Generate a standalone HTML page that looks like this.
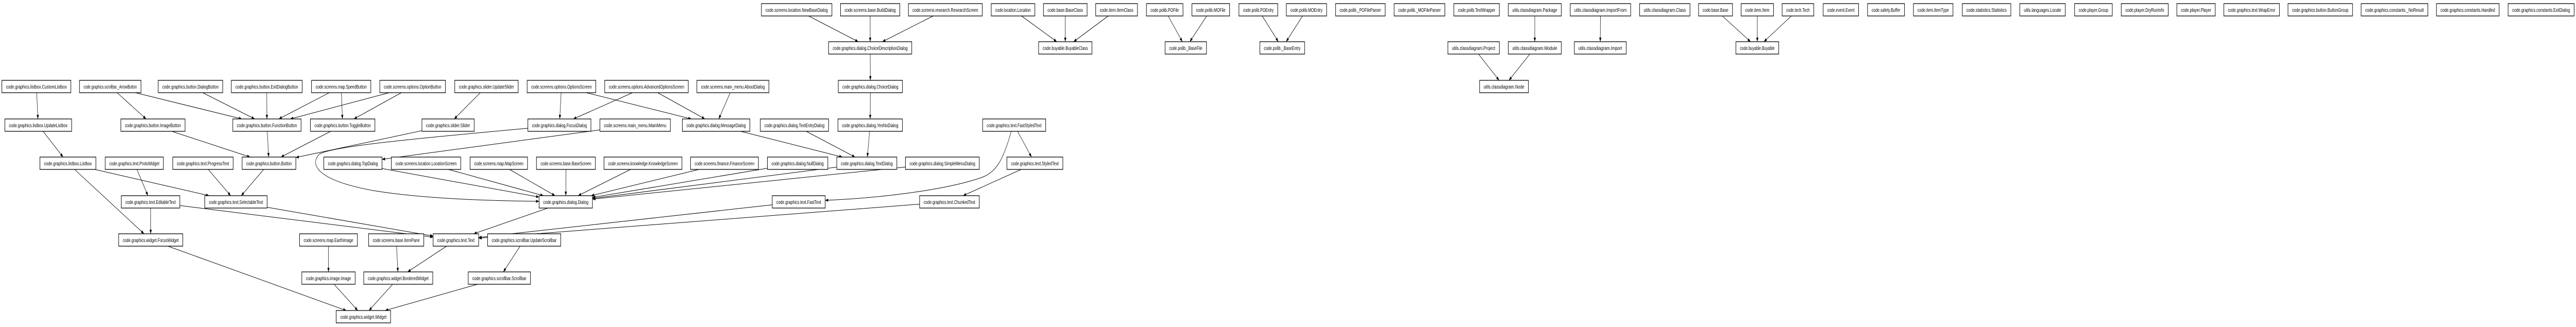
<!DOCTYPE html>
<html><head><meta charset="utf-8">
<meta name="viewport" content="width=6905">
<style>
html,body{margin:0;padding:0;background:#fff;width:100%;height:100%;overflow:hidden;}
svg{display:block;position:fixed;left:0;top:0;width:100vw;height:100vh;}
text{font-family:"Liberation Sans",sans-serif;font-size:10.5px;fill:#000;text-anchor:middle;}
rect{fill:#fff;stroke:#000;stroke-width:1.3;}
.e{stroke:#000;stroke-width:1;fill:none;}
</style></head>
<body>
<svg id="g" viewBox="0 0 6905 635" preserveAspectRatio="none" xmlns="http://www.w3.org/2000/svg">
<defs><marker id="a" markerWidth="8" markerHeight="6" refX="8" refY="3" orient="auto" markerUnits="userSpaceOnUse"><path d="M0,0 L8,3 L0,6 z" fill="#000"/></marker></defs>
<g id="edges"></g>
<path class="e" marker-end="url(#a)" d="M1415,249 C1100,270 880,285 855,300 C830,320 850,350 1000,370 C1150,388 1350,390 1445,391"/>
<path class="e" marker-end="url(#a)" d="M2711,254 C2690,310 2670,335 2630,345 C2530,370 2350,385 2212,389"/>
<g>
<rect x="2041" y="7" width="189" height="24"/><text x="2135.5" y="23" textLength="167" lengthAdjust="spacingAndGlyphs">code.screens.location.NewBaseDialog</text>
<rect x="2253" y="7" width="159" height="24"/><text x="2332.5" y="23" textLength="137" lengthAdjust="spacingAndGlyphs">code.screens.base.BuildDialog</text>
<rect x="2435" y="7" width="198" height="24"/><text x="2534" y="23" textLength="176" lengthAdjust="spacingAndGlyphs">code.screens.research.ResearchScreen</text>
<rect x="2657" y="7" width="117" height="24"/><text x="2715.5" y="23" textLength="95" lengthAdjust="spacingAndGlyphs">code.location.Location</text>
<rect x="2797" y="7" width="117" height="24"/><text x="2855.5" y="23" textLength="95" lengthAdjust="spacingAndGlyphs">code.base.BaseClass</text>
<rect x="2937" y="7" width="112" height="24"/><text x="2993" y="23" textLength="90" lengthAdjust="spacingAndGlyphs">code.item.ItemClass</text>
<rect x="3073" y="7" width="98" height="24"/><text x="3122" y="23" textLength="76" lengthAdjust="spacingAndGlyphs">code.polib.POFile</text>
<rect x="3195" y="7" width="101" height="24"/><text x="3245.5" y="23" textLength="79" lengthAdjust="spacingAndGlyphs">code.polib.MOFile</text>
<rect x="3321" y="7" width="104" height="24"/><text x="3373" y="23" textLength="82" lengthAdjust="spacingAndGlyphs">code.polib.POEntry</text>
<rect x="3448" y="7" width="108" height="24"/><text x="3502" y="23" textLength="86" lengthAdjust="spacingAndGlyphs">code.polib.MOEntry</text>
<rect x="3580" y="7" width="133" height="24"/><text x="3646.5" y="23" textLength="111" lengthAdjust="spacingAndGlyphs">code.polib._POFileParser</text>
<rect x="3737" y="7" width="136" height="24"/><text x="3805" y="23" textLength="114" lengthAdjust="spacingAndGlyphs">code.polib._MOFileParser</text>
<rect x="3897" y="7" width="122" height="24"/><text x="3958" y="23" textLength="100" lengthAdjust="spacingAndGlyphs">code.polib.TextWrapper</text>
<rect x="4043" y="7" width="142" height="24"/><text x="4114" y="23" textLength="120" lengthAdjust="spacingAndGlyphs">utils.classdiagram.Package</text>
<rect x="4209" y="7" width="162" height="24"/><text x="4290" y="23" textLength="140" lengthAdjust="spacingAndGlyphs">utils.classdiagram.ImportFrom</text>
<rect x="4395" y="7" width="135" height="24"/><text x="4462.5" y="23" textLength="113" lengthAdjust="spacingAndGlyphs">utils.classdiagram.Class</text>
<rect x="4553" y="7" width="91" height="24"/><text x="4598.5" y="23" textLength="69" lengthAdjust="spacingAndGlyphs">code.base.Base</text>
<rect x="4667" y="7" width="87" height="24"/><text x="4710.5" y="23" textLength="65" lengthAdjust="spacingAndGlyphs">code.item.Item</text>
<rect x="4777" y="7" width="85" height="24"/><text x="4819.5" y="23" textLength="63" lengthAdjust="spacingAndGlyphs">code.tech.Tech</text>
<rect x="4887" y="7" width="95" height="24"/><text x="4934.5" y="23" textLength="73" lengthAdjust="spacingAndGlyphs">code.event.Event</text>
<rect x="5006" y="7" width="99" height="24"/><text x="5055.5" y="23" textLength="77" lengthAdjust="spacingAndGlyphs">code.safety.Buffer</text>
<rect x="5129" y="7" width="106" height="24"/><text x="5182" y="23" textLength="84" lengthAdjust="spacingAndGlyphs">code.item.ItemType</text>
<rect x="5260" y="7" width="130" height="24"/><text x="5325" y="23" textLength="108" lengthAdjust="spacingAndGlyphs">code.statistics.Statistics</text>
<rect x="5414" y="7" width="122" height="24"/><text x="5475" y="23" textLength="100" lengthAdjust="spacingAndGlyphs">utils.languages.Locale</text>
<rect x="5561" y="7" width="101" height="24"/><text x="5611.5" y="23" textLength="79" lengthAdjust="spacingAndGlyphs">code.player.Group</text>
<rect x="5686" y="7" width="126" height="24"/><text x="5749" y="23" textLength="104" lengthAdjust="spacingAndGlyphs">code.player.DryRunInfo</text>
<rect x="5835" y="7" width="103" height="24"/><text x="5886.5" y="23" textLength="81" lengthAdjust="spacingAndGlyphs">code.player.Player</text>
<rect x="5961" y="7" width="149" height="24"/><text x="6035.5" y="23" textLength="127" lengthAdjust="spacingAndGlyphs">code.graphics.text.WrapError</text>
<rect x="6133" y="7" width="173" height="24"/><text x="6219.5" y="23" textLength="151" lengthAdjust="spacingAndGlyphs">code.graphics.button.ButtonGroup</text>
<rect x="6329" y="7" width="179" height="24"/><text x="6418.5" y="23" textLength="157" lengthAdjust="spacingAndGlyphs">code.graphics.constants._NoResult</text>
<rect x="6531" y="7" width="168" height="24"/><text x="6615" y="23" textLength="146" lengthAdjust="spacingAndGlyphs">code.graphics.constants.Handled</text>
<rect x="6723" y="7" width="177" height="24"/><text x="6811.5" y="23" textLength="155" lengthAdjust="spacingAndGlyphs">code.graphics.constants.ExitDialog</text>

<rect x="2221" y="81" width="223" height="24"/><text x="2332.5" y="97" textLength="201" lengthAdjust="spacingAndGlyphs">code.graphics.dialog.ChoiceDescriptionDialog</text>
<rect x="2784" y="81" width="143" height="24"/><text x="2855.5" y="97" textLength="121" lengthAdjust="spacingAndGlyphs">code.buyable.BuyableClass</text>
<rect x="3123" y="81" width="111" height="24"/><text x="3178.5" y="97" textLength="89" lengthAdjust="spacingAndGlyphs">code.polib._BaseFile</text>
<rect x="3377" y="81" width="120" height="24"/><text x="3437" y="97" textLength="98" lengthAdjust="spacingAndGlyphs">code.polib._BaseEntry</text>
<rect x="3881" y="81" width="138" height="24"/><text x="3950" y="97" textLength="116" lengthAdjust="spacingAndGlyphs">utils.classdiagram.Project</text>
<rect x="4043" y="81" width="142" height="24"/><text x="4114" y="97" textLength="120" lengthAdjust="spacingAndGlyphs">utils.classdiagram.Module</text>
<rect x="4220" y="81" width="139" height="24"/><text x="4289.5" y="97" textLength="117" lengthAdjust="spacingAndGlyphs">utils.classdiagram.Import</text>
<rect x="4653" y="81" width="115" height="24"/><text x="4710.5" y="97" textLength="93" lengthAdjust="spacingAndGlyphs">code.buyable.Buyable</text>

<rect x="5" y="156" width="185" height="24"/><text x="97.5" y="172" textLength="163" lengthAdjust="spacingAndGlyphs">code.graphics.listbox.CustomListbox</text>
<rect x="213" y="156" width="165" height="24"/><text x="295.5" y="172" textLength="143" lengthAdjust="spacingAndGlyphs">code.graphics.scrollbar._ArrowButton</text>
<rect x="424" y="156" width="173" height="24"/><text x="510.5" y="172" textLength="151" lengthAdjust="spacingAndGlyphs">code.graphics.button.DialogButton</text>
<rect x="620" y="156" width="190" height="24"/><text x="715" y="172" textLength="168" lengthAdjust="spacingAndGlyphs">code.graphics.button.ExitDialogButton</text>
<rect x="835" y="156" width="159" height="24"/><text x="914.5" y="172" textLength="137" lengthAdjust="spacingAndGlyphs">code.screens.map.SpeedButton</text>
<rect x="1018" y="156" width="176" height="24"/><text x="1106" y="172" textLength="154" lengthAdjust="spacingAndGlyphs">code.screens.options.OptionButton</text>
<rect x="1219" y="156" width="170" height="24"/><text x="1304" y="172" textLength="148" lengthAdjust="spacingAndGlyphs">code.graphics.slider.UpdateSlider</text>
<rect x="1413" y="156" width="184" height="24"/><text x="1505" y="172" textLength="162" lengthAdjust="spacingAndGlyphs">code.screens.options.OptionsScreen</text>
<rect x="1621" y="156" width="224" height="24"/><text x="1733" y="172" textLength="202" lengthAdjust="spacingAndGlyphs">code.screens.options.AdvancedOptionsScreen</text>
<rect x="1868" y="156" width="193" height="24"/><text x="1964.5" y="172" textLength="171" lengthAdjust="spacingAndGlyphs">code.screens.main_menu.AboutDialog</text>
<rect x="2247" y="156" width="172" height="24"/><text x="2333" y="172" textLength="150" lengthAdjust="spacingAndGlyphs">code.graphics.dialog.ChoiceDialog</text>
<rect x="3966" y="156" width="131" height="24"/><text x="4031.5" y="172" textLength="109" lengthAdjust="spacingAndGlyphs">utils.classdiagram.Node</text>

<rect x="13" y="231" width="179" height="24"/><text x="102.5" y="247" textLength="157" lengthAdjust="spacingAndGlyphs">code.graphics.listbox.UpdateListbox</text>
<rect x="324" y="231" width="172" height="24"/><text x="410" y="247" textLength="150" lengthAdjust="spacingAndGlyphs">code.graphics.button.ImageButton</text>
<rect x="624" y="231" width="183" height="24"/><text x="715.5" y="247" textLength="161" lengthAdjust="spacingAndGlyphs">code.graphics.button.FunctionButton</text>
<rect x="832" y="231" width="173" height="24"/><text x="918.5" y="247" textLength="151" lengthAdjust="spacingAndGlyphs">code.graphics.button.ToggleButton</text>
<rect x="1131" y="231" width="140" height="24"/><text x="1201" y="247" textLength="118" lengthAdjust="spacingAndGlyphs">code.graphics.slider.Slider</text>
<rect x="1415" y="231" width="169" height="24"/><text x="1499.5" y="247" textLength="147" lengthAdjust="spacingAndGlyphs">code.graphics.dialog.FocusDialog</text>
<rect x="1608" y="231" width="189" height="24"/><text x="1702.5" y="247" textLength="167" lengthAdjust="spacingAndGlyphs">code.screens.main_menu.MainMenu</text>
<rect x="1829" y="231" width="181" height="24"/><text x="1919.5" y="247" textLength="159" lengthAdjust="spacingAndGlyphs">code.graphics.dialog.MessageDialog</text>
<rect x="2038" y="231" width="183" height="24"/><text x="2129.5" y="247" textLength="161" lengthAdjust="spacingAndGlyphs">code.graphics.dialog.TextEntryDialog</text>
<rect x="2246" y="231" width="173" height="24"/><text x="2332.5" y="247" textLength="151" lengthAdjust="spacingAndGlyphs">code.graphics.dialog.YesNoDialog</text>
<rect x="2634" y="231" width="169" height="24"/><text x="2718.5" y="247" textLength="147" lengthAdjust="spacingAndGlyphs">code.graphics.text.FastStyledText</text>

<rect x="107" y="305" width="150" height="24"/><text x="182" y="321" textLength="128" lengthAdjust="spacingAndGlyphs">code.graphics.listbox.Listbox</text>
<rect x="282" y="305" width="156" height="24"/><text x="360" y="321" textLength="134" lengthAdjust="spacingAndGlyphs">code.graphics.text.ProtoWidget</text>
<rect x="463" y="305" width="162" height="24"/><text x="544" y="321" textLength="140" lengthAdjust="spacingAndGlyphs">code.graphics.text.ProgressText</text>
<rect x="649" y="305" width="144" height="24"/><text x="721" y="321" textLength="122" lengthAdjust="spacingAndGlyphs">code.graphics.button.Button</text>
<rect x="868" y="305" width="156" height="24"/><text x="946" y="321" textLength="134" lengthAdjust="spacingAndGlyphs">code.graphics.dialog.TopDialog</text>
<rect x="1049" y="305" width="186" height="24"/><text x="1142" y="321" textLength="164" lengthAdjust="spacingAndGlyphs">code.screens.location.LocationScreen</text>
<rect x="1260" y="305" width="154" height="24"/><text x="1337" y="321" textLength="132" lengthAdjust="spacingAndGlyphs">code.screens.map.MapScreen</text>
<rect x="1438" y="305" width="158" height="24"/><text x="1517" y="321" textLength="136" lengthAdjust="spacingAndGlyphs">code.screens.base.BaseScreen</text>
<rect x="1619" y="305" width="209" height="24"/><text x="1723.5" y="321" textLength="187" lengthAdjust="spacingAndGlyphs">code.screens.knowledge.KnowledgeScreen</text>
<rect x="1851" y="305" width="182" height="24"/><text x="1942" y="321" textLength="160" lengthAdjust="spacingAndGlyphs">code.screens.finance.FinanceScreen</text>
<rect x="2057" y="305" width="162" height="24"/><text x="2138" y="321" textLength="140" lengthAdjust="spacingAndGlyphs">code.graphics.dialog.NullDialog</text>
<rect x="2243" y="305" width="161" height="24"/><text x="2323.5" y="321" textLength="139" lengthAdjust="spacingAndGlyphs">code.graphics.dialog.TextDialog</text>
<rect x="2427" y="305" width="198" height="24"/><text x="2526" y="321" textLength="176" lengthAdjust="spacingAndGlyphs">code.graphics.dialog.SimpleMenuDialog</text>
<rect x="2699" y="305" width="150" height="24"/><text x="2774" y="321" textLength="128" lengthAdjust="spacingAndGlyphs">code.graphics.text.StyledText</text>

<rect x="325" y="380" width="157" height="24"/><text x="403.5" y="396" textLength="135" lengthAdjust="spacingAndGlyphs">code.graphics.text.EditableText</text>
<rect x="549" y="380" width="167" height="24"/><text x="632.5" y="396" textLength="145" lengthAdjust="spacingAndGlyphs">code.graphics.text.SelectableText</text>
<rect x="1445" y="380" width="143" height="24"/><text x="1516.5" y="396" textLength="121" lengthAdjust="spacingAndGlyphs">code.graphics.dialog.Dialog</text>
<rect x="2070" y="380" width="142" height="24"/><text x="2141" y="396" textLength="120" lengthAdjust="spacingAndGlyphs">code.graphics.text.FastText</text>
<rect x="2465" y="380" width="160" height="24"/><text x="2545" y="396" textLength="138" lengthAdjust="spacingAndGlyphs">code.graphics.text.ChunkedText</text>

<rect x="318" y="454" width="172" height="24"/><text x="404" y="470" textLength="150" lengthAdjust="spacingAndGlyphs">code.graphics.widget.FocusWidget</text>
<rect x="803" y="454" width="155" height="24"/><text x="880.5" y="470" textLength="133" lengthAdjust="spacingAndGlyphs">code.screens.map.EarthImage</text>
<rect x="988" y="454" width="148" height="24"/><text x="1062" y="470" textLength="126" lengthAdjust="spacingAndGlyphs">code.screens.base.ItemPane</text>
<rect x="1161" y="454" width="122" height="24"/><text x="1222" y="470" textLength="100" lengthAdjust="spacingAndGlyphs">code.graphics.text.Text</text>
<rect x="1307" y="454" width="196" height="24"/><text x="1405" y="470" textLength="174" lengthAdjust="spacingAndGlyphs">code.graphics.scrollbar.UpdateScrollbar</text>

<rect x="809" y="528" width="143" height="24"/><text x="880.5" y="544" textLength="121" lengthAdjust="spacingAndGlyphs">code.graphics.image.Image</text>
<rect x="975" y="528" width="185" height="24"/><text x="1067.5" y="544" textLength="163" lengthAdjust="spacingAndGlyphs">code.graphics.widget.BorderedWidget</text>
<rect x="1255" y="528" width="167" height="24"/><text x="1338.5" y="544" textLength="145" lengthAdjust="spacingAndGlyphs">code.graphics.scrollbar.Scrollbar</text>

<rect x="901" y="603" width="146" height="24"/><text x="974" y="619" textLength="124" lengthAdjust="spacingAndGlyphs">code.graphics.widget.Widget</text>
</g>
</svg>
<script>
var R=[7,81,156,231,305,380,454,528,603],H=24;
var N={};
var D=[
["NewBaseDialog",2041,2230,0],["BuildDialog",2253,2412,0],["ResearchScreen",2435,2633,0],["Location",2657,2774,0],
["BaseClass",2797,2914,0],["ItemClass",2937,3049,0],["POFile",3073,3171,0],["MOFile",3195,3296,0],["POEntry",3321,3425,0],
["MOEntry",3448,3556,0],["Package",4043,4185,0],["ImportFrom",4209,4371,0],["Base",4553,4644,0],["Item",4667,4754,0],["Tech",4777,4862,0],
["ChoiceDescriptionDialog",2221,2444,1],["BuyableClass",2784,2927,1],["_BaseFile",3123,3234,1],["_BaseEntry",3377,3497,1],
["Project",3881,4019,1],["Module",4043,4185,1],["Import",4220,4359,1],["Buyable",4653,4768,1],
["CustomListbox",5,190,2],["_ArrowButton",213,378,2],["DialogButton",424,597,2],["ExitDialogButton",620,810,2],["SpeedButton",835,994,2],
["OptionButton",1018,1194,2],["UpdateSlider",1219,1389,2],["OptionsScreen",1413,1597,2],["AdvancedOptionsScreen",1621,1845,2],
["AboutDialog",1868,2061,2],["ChoiceDialog",2247,2419,2],["Node",3966,4097,2],
["UpdateListbox",13,192,3],["ImageButton",324,496,3],["FunctionButton",624,807,3],["ToggleButton",832,1005,3],["Slider",1131,1271,3],
["FocusDialog",1415,1584,3],["MainMenu",1608,1797,3],["MessageDialog",1829,2010,3],["TextEntryDialog",2038,2221,3],["YesNoDialog",2246,2419,3],
["FastStyledText",2634,2803,3],
["Listbox",107,257,4],["ProtoWidget",282,438,4],["ProgressText",463,625,4],["Button",649,793,4],["TopDialog",868,1024,4],
["LocationScreen",1049,1235,4],["MapScreen",1260,1414,4],["BaseScreen",1438,1596,4],["KnowledgeScreen",1619,1828,4],
["FinanceScreen",1851,2033,4],["NullDialog",2057,2219,4],["TextDialog",2243,2404,4],["SimpleMenuDialog",2427,2625,4],["StyledText",2699,2849,4],
["EditableText",325,482,5],["SelectableText",549,716,5],["Dialog",1445,1588,5],["FastText",2070,2212,5],["ChunkedText",2465,2625,5],
["FocusWidget",318,490,6],["EarthImage",803,958,6],["ItemPane",988,1136,6],["Text",1161,1283,6],["UpdateScrollbar",1307,1503,6],
["Image",809,952,7],["BorderedWidget",975,1160,7],["Scrollbar",1255,1422,7],["Widget",901,1047,8]
];
D.forEach(function(d){N[d[0]]={x1:d[1],x2:d[2],y:R[d[3]]};});
var E=[
["NewBaseDialog","ChoiceDescriptionDialog"],["BuildDialog","ChoiceDescriptionDialog"],["ResearchScreen","ChoiceDescriptionDialog"],
["Location","BuyableClass"],["BaseClass","BuyableClass"],["ItemClass","BuyableClass"],
["POFile","_BaseFile"],["MOFile","_BaseFile"],["POEntry","_BaseEntry"],["MOEntry","_BaseEntry"],
["Package","Module"],["ImportFrom","Import"],["Project","Node"],["Module","Node"],
["Base","Buyable"],["Item","Buyable"],["Tech","Buyable"],
["ChoiceDescriptionDialog","ChoiceDialog"],["ChoiceDialog","YesNoDialog"],["YesNoDialog","TextDialog"],
["CustomListbox","UpdateListbox"],["_ArrowButton","ImageButton"],["_ArrowButton","FunctionButton"],
["DialogButton","FunctionButton"],["ExitDialogButton","FunctionButton"],["SpeedButton","FunctionButton"],["SpeedButton","ToggleButton"],
["OptionButton","FunctionButton"],["OptionButton","ToggleButton"],
["UpdateSlider","Slider"],["OptionsScreen","FocusDialog"],["OptionsScreen","MessageDialog"],
["AdvancedOptionsScreen","FocusDialog"],["AdvancedOptionsScreen","MessageDialog"],["AboutDialog","MessageDialog"],
["UpdateListbox","Listbox"],["ImageButton","Button"],["FunctionButton","Button"],["ToggleButton","Button"],["Slider","Button"],
["MainMenu","TopDialog"],["MessageDialog","TextDialog"],["TextEntryDialog","TextDialog"],["FastStyledText","StyledText"],
["Listbox","SelectableText"],["Listbox","FocusWidget"],["ProtoWidget","EditableText"],["ProgressText","SelectableText"],["Button","SelectableText"],
["TopDialog","Dialog"],["LocationScreen","Dialog"],["MapScreen","Dialog"],["BaseScreen","Dialog"],["KnowledgeScreen","Dialog"],
["FinanceScreen","Dialog"],["NullDialog","Dialog"],["TextDialog","Dialog"],["SimpleMenuDialog","Dialog"],["StyledText","ChunkedText"],
["EditableText","FocusWidget"],["EditableText","Text"],["SelectableText","Text"],["Dialog","Text"],["FastText","Text"],["ChunkedText","Text"],
["FocusWidget","Widget"],["EarthImage","Image"],["ItemPane","BorderedWidget"],["Text","BorderedWidget"],["UpdateScrollbar","Scrollbar"],
["Image","Widget"],["BorderedWidget","Widget"],["Scrollbar","Widget"]
];
var ns="http://www.w3.org/2000/svg";
function clip(n,cx,cy,dx,dy){
  var hw=(n.x2-n.x1)/2,hh=H/2,t=1e9;
  if(dx!==0)t=Math.min(t,hw/Math.abs(dx));
  if(dy!==0)t=Math.min(t,hh/Math.abs(dy));
  return [cx+dx*t,cy+dy*t];
}
var eg=document.getElementById("edges");
E.forEach(function(e){
  var a=N[e[0]],b=N[e[1]];if(!a||!b)return;
  var ax=(a.x1+a.x2)/2,ay=a.y+H/2,bx=(b.x1+b.x2)/2,by=b.y+H/2;
  var dx=bx-ax,dy=by-ay;
  var p=clip(a,ax,ay,dx,dy),q=clip(b,bx,by,-dx,-dy);
  var l=document.createElementNS(ns,"line");
  l.setAttribute("x1",p[0]);l.setAttribute("y1",p[1]);l.setAttribute("x2",q[0]);l.setAttribute("y2",q[1]);
  l.setAttribute("class","e");l.setAttribute("marker-end","url(#a)");
  eg.appendChild(l);
});
</script>
</body></html>
